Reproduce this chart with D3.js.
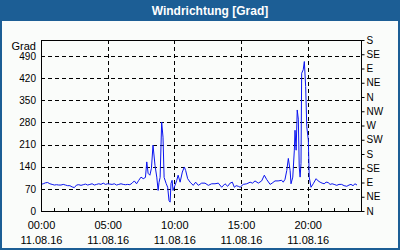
<!DOCTYPE html>
<html>
<head>
<meta charset="utf-8">
<script src="https://cdn.jsdelivr.net/npm/d3@7"></script>
<style>
	body { margin: 0; background: #fafcfa; }
	svg { display: block; font-family: "Liberation Sans", Arial, sans-serif; }
	.axis text { fill: #000; }
</style>
</head>
<body>
<div id="div_id_main"></div>
<script>

// ---- data ----

const strTitle = "Windrichtung [Grad]";
const strUnit = "Grad";
const strDate = "11.08.16";

// minutes since 00:00
const vMinutes = [
	0, 10, 20, 30, 40, 50, 60, 70, 80, 90, 100, 110, 120, 130, 140, 150, 160, 170, 180, 190,
	200, 210, 220, 230, 240, 250, 260, 270, 280, 290, 300, 310, 320, 330, 340, 350, 360, 370, 380, 390,
	400, 410, 420, 430, 440, 450, 460, 470,
	476, 482, 490, 497, 504, 513, 521, 527, 531, 536, 543, 549, 554, 563, 570, 576, 581, 585, 590, 594,
	603, 611, 617, 626, 636, 645, 651, 660, 671, 685, 696, 708, 723, 738, 753, 768, 783, 798, 813, 828,
	840, 851, 861, 870, 878, 888, 896, 910, 926, 941, 952, 963, 978, 993, 1005, 1016, 1031, 1040, 1053, 1067,
	1083, 1090, 1098, 1106, 1113, 1121, 1125, 1133, 1140, 1143, 1148, 1153, 1158, 1162, 1166, 1170, 1173, 1180, 1185, 1191,
	1196, 1203, 1207, 1215, 1225, 1238, 1247, 1256, 1265, 1274, 1283, 1292, 1301, 1310, 1319, 1331, 1341, 1353, 1364, 1376,
	1386, 1395, 1404, 1413, 1422
];

// wind direction in degrees
const vDegrees = [
	84, 86, 89, 90, 86, 84, 82, 83, 82, 82, 84, 82, 80, 80, 76, 74, 82, 83, 81, 83,
	85, 82, 84, 86, 82, 84, 86, 84, 88, 84, 86, 85, 84, 86, 82, 84, 86, 84, 83, 84,
	83, 88, 95, 86, 97, 107, 102, 106,
	155, 119, 113, 135, 208, 144, 107, 65, 90, 106, 281, 233, 106, 87, 75, 33, 28, 87, 97, 65,
	81, 97, 113, 91, 123, 139, 128, 102, 91, 81, 91, 81, 88, 88, 81, 86, 86, 88, 75, 86,
	78, 88, 91, 75, 80, 78, 75, 84, 86, 91, 88, 95, 88, 95, 113, 99, 84, 88, 95, 95,
	97, 91, 100, 128, 166, 128, 86, 107, 192, 255, 192, 319, 290, 139, 107, 150, 435, 446, 472, 393,
	266, 224, 107, 75, 86, 102, 95, 91, 88, 86, 91, 90, 84, 86, 84, 81, 84, 84, 80, 78,
	82, 84, 80, 86, 82
];

const vGradTicks = [0, 70, 140, 210, 280, 350, 420, 490];
const vCompass = ["N", "NE", "E", "SE", "S", "SW", "W", "NW", "N", "NE", "E", "SE", "S"];
const vHourLabels = ["00:00", "05:00", "10:00", "15:00", "20:00"];

// ---- layout ----

const WIDTH = 400, HEIGHT = 250;
const PLOT_L = 41, PLOT_R = 361, PLOT_T = 40, PLOT_B = 211;
const COLOR_FRAME = "#1c5e95";

let fScale_X = d3.scaleLinear().domain([0, 24 * 60]).range([PLOT_L, PLOT_R]);
let fScale_Y = d3.scaleLinear().domain([0, 540]).range([PLOT_B, PLOT_T]);

let svgMain = d3.select("#div_id_main")
				.append("svg")
					.attr("width", WIDTH)
					.attr("height", HEIGHT);

svgMain.append("rect")
		.attr("x", 0).attr("y", 0)
		.attr("width", WIDTH).attr("height", HEIGHT)
		.attr("fill", "#fafcfa");

// title band
svgMain.append("rect")
		.attr("x", 0).attr("y", 0)
		.attr("width", WIDTH).attr("height", 21)
		.attr("fill", COLOR_FRAME);

svgMain.append("text")
		.attr("x", WIDTH / 2 + 10)
		.attr("y", 14.5)
		.attr("text-anchor", "middle")
		.attr("font-size", "12px")
		.attr("font-weight", "bold")
		.attr("fill", "#fff")
		.text(strTitle);

svgMain.append("rect")
		.attr("x", 1).attr("y", 1)
		.attr("width", WIDTH - 2).attr("height", HEIGHT - 2)
		.attr("fill", "none")
		.attr("stroke", COLOR_FRAME)
		.attr("stroke-width", 2);

// ---- grid ----

let gGrid = svgMain.append("g")
				.attr("stroke", "#000")
				.attr("stroke-width", 1)
				.attr("stroke-dasharray", "4,3");

gGrid.selectAll("line.h")
	.data(vGradTicks.filter(v => v > 0))
	.enter()
		.append("line")
			.attr("class", "h")
			.attr("x1", PLOT_L).attr("x2", PLOT_R)
			.attr("y1", d => Math.round(fScale_Y(d)) + 0.5)
			.attr("y2", d => Math.round(fScale_Y(d)) + 0.5);

gGrid.selectAll("line.v")
	.data(vHourLabels.slice(1))
	.enter()
		.append("line")
			.attr("class", "v")
			.attr("x1", (d, i) => Math.round(fScale_X((i + 1) * 300)) + 0.5)
			.attr("x2", (d, i) => Math.round(fScale_X((i + 1) * 300)) + 0.5)
			.attr("y1", PLOT_T).attr("y2", PLOT_B);

// ---- axes ----

let axisLeft = d3.axisLeft(fScale_Y)
				.tickValues(vGradTicks)
				.tickSize(0)
				.tickPadding(5);

svgMain.append("g")
		.attr("class", "axis")
		.attr("transform", "translate(" + PLOT_L + ",0)")
		.attr("font-size", "11px")
		.call(axisLeft)
		.call(g => g.select(".domain").remove())
		.call(g => g.selectAll("text").attr("font-family", "Liberation Sans"));

svgMain.append("text")
		.attr("x", PLOT_L - 5)
		.attr("y", 50)
		.attr("text-anchor", "end")
		.attr("font-size", "11px")
		.text(strUnit);

let axisRight = d3.axisRight(fScale_Y)
				.tickValues(d3.range(vCompass.length).map(i => i * 45))
				.tickFormat((d, i) => vCompass[i])
				.tickSize(3)
				.tickPadding(2);

svgMain.append("g")
		.attr("class", "axis")
		.attr("transform", "translate(" + (PLOT_R + 0.5) + ",0)")
		.attr("font-size", "11px")
		.call(axisRight)
		.call(g => g.select(".domain").remove())
		.call(g => g.selectAll("text").attr("font-family", "Liberation Sans"));

// minor hour ticks on bottom
svgMain.append("g")
		.selectAll("line")
		.data(d3.range(1, 24))
		.enter()
			.append("line")
				.attr("x1", d => Math.round(fScale_X(d * 60)) + 0.5)
				.attr("x2", d => Math.round(fScale_X(d * 60)) + 0.5)
				.attr("y1", PLOT_B - 3)
				.attr("y2", PLOT_B)
				.attr("stroke", "#000");

let gBottom = svgMain.append("g").attr("font-size", "11px");

gBottom.selectAll("text.hour")
	.data(vHourLabels)
	.enter()
		.append("text")
			.attr("class", "hour")
			.attr("x", (d, i) => fScale_X(i * 300) + 0.5)
			.attr("y", 229)
			.attr("text-anchor", "middle")
			.text(d => d);

gBottom.selectAll("text.date")
	.data(vHourLabels)
	.enter()
		.append("text")
			.attr("class", "date")
			.attr("x", (d, i) => fScale_X(i * 300) + 0.5)
			.attr("y", 244)
			.attr("text-anchor", "middle")
			.text(strDate);

// ---- series ----

let vPoints = vMinutes.map((m, i) => [m, vDegrees[i]]);

svgMain.append("path")
		.datum(vPoints)
		.attr("fill", "none")
		.attr("stroke", "#0a14f0")
		.attr("stroke-width", 1)
		.attr("d", d3.line()
					.x(d => fScale_X(d[0]))
					.y(d => fScale_Y(d[1])));

// frame
svgMain.append("rect")
		.attr("x", PLOT_L + 0.5).attr("y", PLOT_T + 0.5)
		.attr("width", PLOT_R - PLOT_L).attr("height", PLOT_B - PLOT_T)
		.attr("fill", "none")
		.attr("stroke", "#000");

</script>
</body>
</html>
